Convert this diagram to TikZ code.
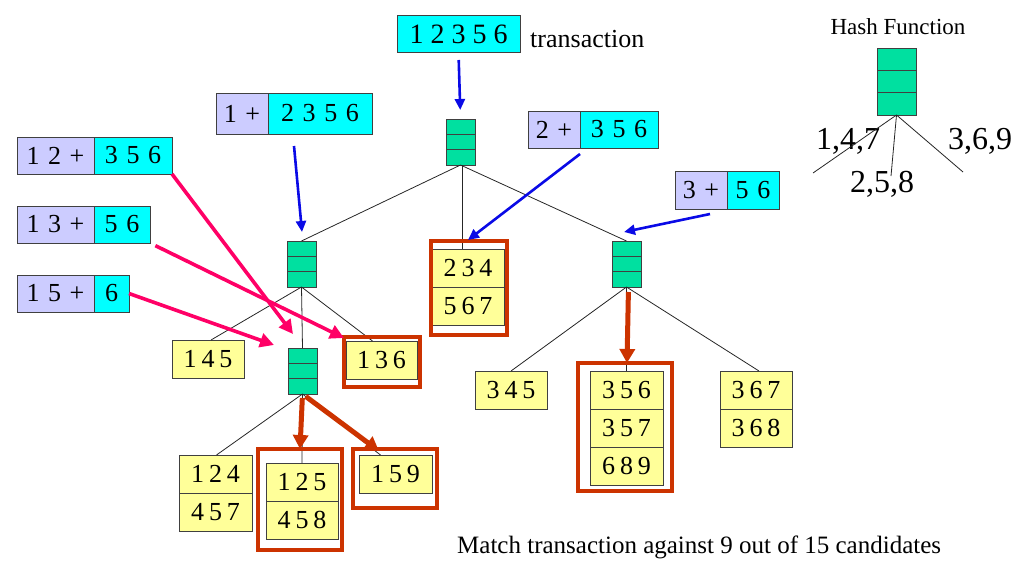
\documentclass[tikz,border=0pt]{standalone}
\usepackage{fontspec}
\setmainfont{Liberation Serif}
\usetikzlibrary{arrows.meta,calc}
\definecolor{cyanbox}{RGB}{0,255,255}
\definecolor{lav}{RGB}{204,204,255}
\definecolor{hashg}{RGB}{0,224,160}
\definecolor{leafy}{RGB}{255,255,153}
\definecolor{framec}{RGB}{204,51,0}
\definecolor{pinka}{RGB}{255,0,102}
\definecolor{bluea}{RGB}{10,10,230}
\newcommand\widesp{\spaceskip=0.33em\relax}
\newcommand\leafsp{\spaceskip=0.19em\relax}
\newcommand\normsp{\spaceskip=0pt\relax}
\newcommand\hashdiv[1]{%
  \draw[boxline] ($(#1.north west)!1/3!(#1.south west)$) -- ($(#1.north east)!1/3!(#1.south east)$)
                 ($(#1.north west)!2/3!(#1.south west)$) -- ($(#1.north east)!2/3!(#1.south east)$);}
\begin{document}
\begin{tikzpicture}[x=1pt,y=-1pt,
  boxline/.style={draw=black!75,line width=1pt},
  box/.style={boxline,inner sep=0pt,outer sep=0pt,anchor=north west,font=\fontsize{26}{30}\selectfont,execute at begin node=\widesp},
  keyp/.style={box,fill=lav},
  restp/.style={box,fill=cyanbox},
  leaf/.style={box,fill=leafy,minimum width=72pt,minimum height=38pt,execute at begin node=\leafsp},
  hashn/.style={boxline,fill=hashg,minimum width=29pt,minimum height=46pt,inner sep=0pt,outer sep=0pt,anchor=north west},
  redframe/.style={draw=framec,line width=4.5pt,inner sep=0pt,outer sep=0pt,anchor=north west},
  conn/.style={draw=black!85,line width=0.8pt},
  bluearrow/.style={draw=bluea,line width=2.6pt,-{Triangle[length=11pt,width=10pt]}},
  pinkarrow/.style={draw=pinka,line width=3.6pt,-{Triangle[length=14pt,width=14pt]}},
  redarrow/.style={draw=framec,line width=5pt,-{Triangle[length=14pt,width=15pt]}},
  lbl/.style={font=\fontsize{26}{30}\selectfont,inner sep=0pt}
]
\useasboundingbox (0,0) rectangle (1024,586);

% transaction
\node[restp,minimum width=123pt,minimum height=37pt,font=\fontsize{28}{32}\selectfont,execute at begin node=\normsp] (tr) at (397,16) {1 2 3 5 6};
\node[lbl,anchor=west] (trl) at (530,39) {transaction};

% hash nodes
\node[hashn] (root) at (446,119) {};
\node[hashn] (h1) at (287,241) {};
\node[hashn] (h3) at (612,241) {};
\node[hashn] (h12) at (288,348) {};

% leaves
\node[leaf] (l145) at (172,340) {1 4 5};
\node[leaf,minimum width=71pt] (l136) at (346,341) {1 3 6};
\node[leaf] (l234) at (432,249) {2 3 4};
\node[leaf] (l567) at (432,287) {5 6 7};
\node[leaf,minimum width=73pt] (l124) at (179,455) {1 2 4};
\node[leaf,minimum width=73pt] (l457) at (179,493) {4 5 7};
\node[leaf] (l125) at (266,463) {1 2 5};
\node[leaf] (l458) at (266,501) {4 5 8};
\node[leaf,minimum width=73pt] (l159) at (359,455) {1 5 9};
\node[leaf] (l345) at (475,371) {3 4 5};
\node[leaf,minimum width=73pt] (l356) at (590,371) {3 5 6};
\node[leaf,minimum width=73pt] (l357) at (590,409) {3 5 7};
\node[leaf,minimum width=73pt] (l689) at (590,447) {6 8 9};
\node[leaf] (l367) at (720,371) {3 6 7};
\node[leaf] (l368) at (720,409) {3 6 8};

% connectors
\draw[conn] (root.south) -- (h1.north);
\draw[conn] ([xshift=2pt]root.south) -- ([xshift=2pt]root.south |- l234.north);
\draw[conn] (root.south) -- (h3.north);
\draw[conn] (h1.south) -- ([xshift=3pt]l145.north);
\draw[conn] (h1.south) -- (h12.north);
\draw[conn] (h1.south) -- ([xshift=-9pt]l136.north);
\draw[conn] (h12.south) -- ([xshift=1pt]l124.north);
\draw[conn] (h12.south) -- (l125.north);
\draw[conn] (h12.south) -- ([xshift=-15pt]l159.north);
\draw[conn] (h3.south) -- (l345.north);
\draw[conn] (h3.south) -- (l356.north);
\draw[conn] (h3.south) -- ([xshift=3pt]l367.north);

\hashdiv{root}
\hashdiv{h1}
\hashdiv{h3}
\hashdiv{h12}

% red frames
\node[redframe,minimum width=76pt,minimum height=94pt] (f234) at (431,241) {};
\node[redframe,minimum width=76pt,minimum height=50pt] (f136) at (344,337) {};
\node[redframe,minimum width=84pt,minimum height=101pt] (f125) at (258,449) {};
\node[redframe,minimum width=84pt,minimum height=59pt] (f159) at (353,449) {};
\node[redframe,minimum width=94pt,minimum height=128pt] (f356) at (578,363) {};

% key boxes
\node[keyp,minimum width=52pt,minimum height=41pt] (k1a) at (216,93) {1 +};
\node[restp,minimum width=104pt,minimum height=41pt] (k1b) at (268,93) {2 3 5 6};
\node[keyp,minimum width=52pt,minimum height=37pt] (k2a) at (528,111) {2 +};
\node[restp,minimum width=78pt,minimum height=37pt] (k2b) at (580,111) {3 5 6};
\node[keyp,minimum width=52pt,minimum height=38pt] (k3a) at (675,171) {3 +};
\node[restp,minimum width=52pt,minimum height=38pt] (k3b) at (727,171) {5 6};
\node[keyp,minimum width=77pt,minimum height=37pt] (k12a) at (17,137) {1 2 +};
\node[restp,minimum width=78pt,minimum height=37pt] (k12b) at (94,137) {3 5 6};
\node[keyp,minimum width=77pt,minimum height=37pt] (k13a) at (17,206) {1 3 +};
\node[restp,minimum width=56pt,minimum height=37pt] (k13b) at (94,206) {5 6};
\node[keyp,minimum width=77pt,minimum height=37pt] (k15a) at (17,275) {1 5 +};
\node[restp,minimum width=35pt,minimum height=37pt] (k15b) at (94,275) {6};

% arrow end points
\coordinate (b1s) at (294,146);
\coordinate (b1e) at (302,232);
\coordinate (b2s) at (580,154);
\coordinate (b2e) at (468,240);
\coordinate (b3s) at (710,214);
\coordinate (b3e) at (624,232);
\coordinate (p1e) at (293,334);
\coordinate (p2e) at (344,338);
\coordinate (p3e) at (274,345);
\coordinate (r2e) at (379,451);

% blue arrows
\draw[bluearrow,shorten <=7pt,shorten >=9pt] (tr.south) -- (root.north);
\draw[bluearrow] (b1s) -- (b1e);
\draw[bluearrow] (b2s) -- (b2e);
\draw[bluearrow] (b3s) -- (b3e);

% pink arrows
\draw[pinkarrow] (k12b.south east) -- (p1e);
\draw[pinkarrow,shorten <=6pt] (k13b.south east) -- (p2e);
\draw[pinkarrow] (k15b.east) -- (p3e);

% red arrows
\draw[redarrow,shorten <=4pt] (h12.south) -- (f125.north);
\draw[redarrow,shorten <=4pt] (h12.south) -- (r2e);
\draw[redarrow,shorten <=5pt] ([xshift=2pt]h3.south) -- ([xshift=2pt]f356.north);

% hash function legend
\node[lbl,font=\fontsize{23}{27}\selectfont] (hft) at (898,27) {Hash Function};
\node[hashn,minimum width=39pt,minimum height=66pt] (hf) at (877,49) {};
\hashdiv{hf}
\node[lbl,font=\fontsize{32}{36}\selectfont] (h147) at (848,141) {1,4,7};
\node[lbl,font=\fontsize{32}{36}\selectfont] (h258) at (882,184) {2,5,8};
\node[lbl,font=\fontsize{32}{36}\selectfont] (h369) at (980,141) {3,6,9};
\coordinate (hl1) at (813,173);
\coordinate (hl2) at (891,176);
\coordinate (hl3) at (963,172);
\draw[conn] (hf.south) -- (hl1);
\draw[conn] (hf.south) -- (hl2);
\draw[conn] (hf.south) -- (hl3);

% caption
\node[lbl,font=\fontsize{25}{29}\selectfont,anchor=west] (cap) at (457,547) {Match transaction against 9 out of 15 candidates};
\end{tikzpicture}
\end{document}
